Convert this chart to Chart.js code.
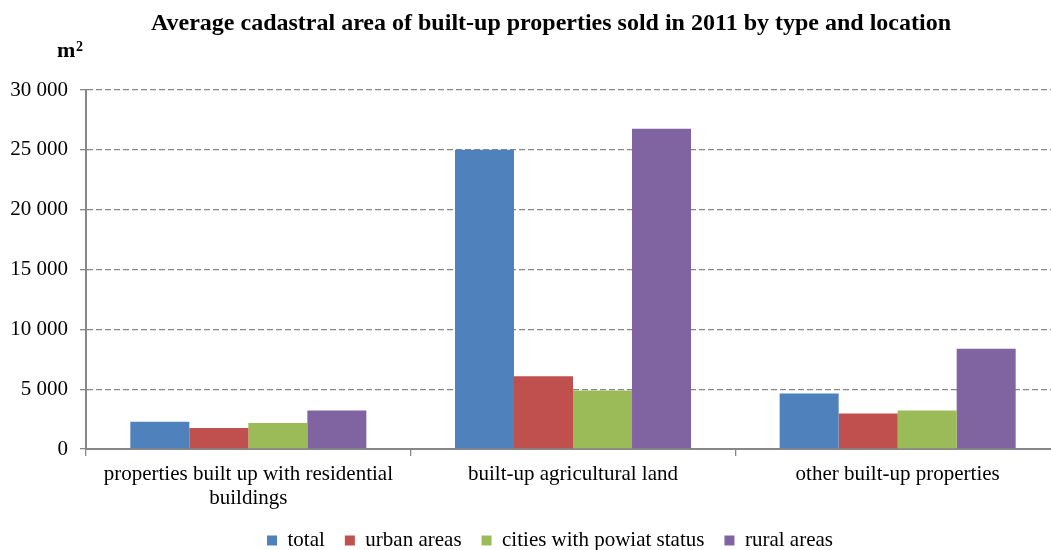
<!DOCTYPE html>
<html>
<head>
<meta charset="utf-8">
<script src="https://cdn.jsdelivr.net/npm/chart.js@4/dist/chart.umd.min.js"></script>
<style>
  html, body { margin: 0; padding: 0; background: #fff; overflow: hidden; }
  #wrap { width: 1060px; height: 550px; position: relative; }
</style>
</head>
<body>
<div id="wrap"><canvas id="areaChart"></canvas></div>
<script>
const categories = [
    ['properties built up with residential', 'buildings'],
    'built-up agricultural land',
    'other built-up properties',
];
const seriesNames  = ['total', 'urban areas', 'cities with powiat status', 'rural areas'];
const totalArea    = [2270, 25000, 4640];
const urbanArea    = [1750, 6070, 2960];
const powiatArea   = [2170, 4890, 3210];
const ruralArea    = [3210, 26760, 8370];
const yTicks       = [0, 5000, 10000, 15000, 20000, 25000, 30000];

const colors = ['#4f81bd', '#c0504d', '#9bbb59', '#8064a2'];
const serif  = '"Liberation Serif", "Times New Roman", serif';
const gray   = '#878787';

// title and unit label above the plot
const headerText = {
    id: 'headerText',
    afterDraw(chart) {
        const c = chart.ctx;
        c.save();
        c.fillStyle = '#000';
        c.textBaseline = 'alphabetic';
        c.font = 'bold 24px ' + serif;
        c.textAlign = 'center';
        c.fillText('Average cadastral area of built-up properties sold in 2011 by type and location', 551, 30);
        c.textAlign = 'left';
        c.font = 'bold 22px ' + serif;
        c.fillText('m', 57, 57);
        c.font = 'bold 14px ' + serif;
        c.fillText('2', 76, 51);
        c.restore();
    },
};

// legend sits a little right of and below its default slot;
// the category axis keeps room for its two-line label
const legendShift = {
    id: 'legendShift',
    afterLayout(chart) {
        const lg = chart.legend;
        lg.left += 40;
        lg.top += 11; lg.bottom += 11;
        chart.scales.x.bottom += 24;
    },
};

const fmt = v => String(v).replace(/\B(?=(\d{3})+(?!\d))/g, ' ');

new Chart(document.getElementById('areaChart'), {
    type: 'bar',
    data: {
        labels: categories,
        datasets: [totalArea, urbanArea, powiatArea, ruralArea].map((d, i) => ({
            label: seriesNames[i],
            data: d,
            backgroundColor: colors[i],
            borderWidth: 0,
            categoryPercentage: 0.727,
            barPercentage: 1,
        })),
    },
    options: {
        responsive: true,
        maintainAspectRatio: false,
        animation: false,
        layout: { padding: { top: 90, left: 0, right: 0, bottom: 0 } },
        plugins: {
            tooltip: { enabled: false },
            legend: {
                position: 'bottom',
                labels: {
                    boxWidth: 10, boxHeight: 10, padding: 20,
                    color: '#000',
                    font: { family: serif, size: 21 },
                },
            },
        },
        scales: {
            x: {
                grid: { offset: true, drawOnChartArea: false, color: gray, tickLength: 7, lineWidth: 1.3 },
                border: { color: gray, width: 2 },
                ticks: { color: '#000', font: { family: serif, size: 21, lineHeight: 1.15 }, padding: 6, maxRotation: 0 },
                afterFit: s => { s.height = 50; },
            },
            y: {
                min: 0,
                max: 30000,
                afterBuildTicks: s => { s.ticks = yTicks.map(v => ({ value: v })); },
                grid: { color: gray, lineWidth: 1.3, tickLength: 6, tickBorderDash: [] },
                border: { color: gray, width: 2, dash: [6, 3] },
                ticks: { color: '#000', font: { family: serif, size: 21 }, padding: 12, callback: v => fmt(v) },
                afterFit: s => { s.width = 86; },
            },
        },
    },
    plugins: [headerText, legendShift],
});
</script>
</body>
</html>
